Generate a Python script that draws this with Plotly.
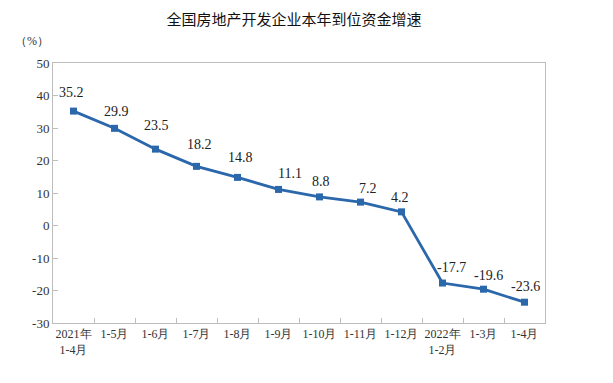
import plotly.graph_objects as go

categories = ["2021年<br>1-4月", "1-5月", "1-6月", "1-7月", "1-8月", "1-9月",
              "1-10月", "1-11月", "1-12月", "2022年<br>1-2月", "1-3月", "1-4月"]
values = [35.2, 29.9, 23.5, 18.2, 14.8, 11.1, 8.8, 7.2, 4.2, -17.7, -19.6, -23.6]
labels = ["35.2", "29.9", "23.5", "18.2", "14.8", "11.1", "8.8", "7.2", "4.2", "-17.7", "-19.6", "-23.6"]
y_ticks = [50, 40, 30, 20, 10, 0, -10, -20, -30]
y_tick_text = ["50", "40", "30", "20", "10", "0", "-10", "-20", "-30"]

serif = "Times New Roman"
line_color = "#2b67ab"
frame_color = "#bdbdbd"

fig = go.Figure()
fig.add_trace(go.Scatter(
    x=categories, y=values, mode="lines+markers",
    line=dict(color=line_color, width=2.8),
    marker=dict(symbol="square", size=7, color=line_color),
    hoverinfo="skip", showlegend=False,
))

xshifts = [-2, 2, 1, 3, 3, 11, 1, 7, -2, 9, 5, 1]
yshifts = [19, 17, 24, 22, 20, 16, 15, 14, 14, 16, 14, 16]
for i, (c, v, t) in enumerate(zip(categories, values, labels)):
    fig.add_annotation(x=c, y=v, text=t, showarrow=False,
                       xshift=xshifts[i], yshift=yshifts[i],
                       font=dict(family=serif, size=14, color="#222"))

fig.add_annotation(xref="paper", yref="paper", x=-0.005, y=1.0, yshift=13,
                   xanchor="right", yanchor="bottom", text="（%）", showarrow=False,
                   font=dict(family=serif, size=12, color="#333"))

fig.update_layout(
    width=605, height=375,
    margin=dict(l=45, r=68, t=55, b=60, autoexpand=False),
    paper_bgcolor="white", plot_bgcolor="white",
    title=dict(text="全国房地产开发企业本年到位资金增速", x=0.49, xref="paper", xanchor="center",
               y=0.968, yanchor="middle",
               font=dict(family="Noto Sans CJK SC", size=15, color="#111")),
    xaxis=dict(
        type="category", showline=True, linecolor=frame_color, linewidth=1, mirror=True,
        showgrid=False, ticks="inside", ticklen=5, tickcolor=frame_color, tickson="boundaries",
        tickangle=0, automargin=False,
        tickfont=dict(family=serif, size=12, color="#333"),
        range=[-0.5, len(categories) - 0.5],
    ),
    yaxis=dict(
        range=[-30, 50], tickvals=y_ticks, ticktext=y_tick_text, showline=True,
        linecolor=frame_color, linewidth=1,
        mirror=True, showgrid=False, zeroline=False, ticks="inside", ticklen=5, automargin=False,
        tickcolor=frame_color, tickfont=dict(family=serif, size=13, color="#333"),
    ),
)

fig.write_html("out.html")
